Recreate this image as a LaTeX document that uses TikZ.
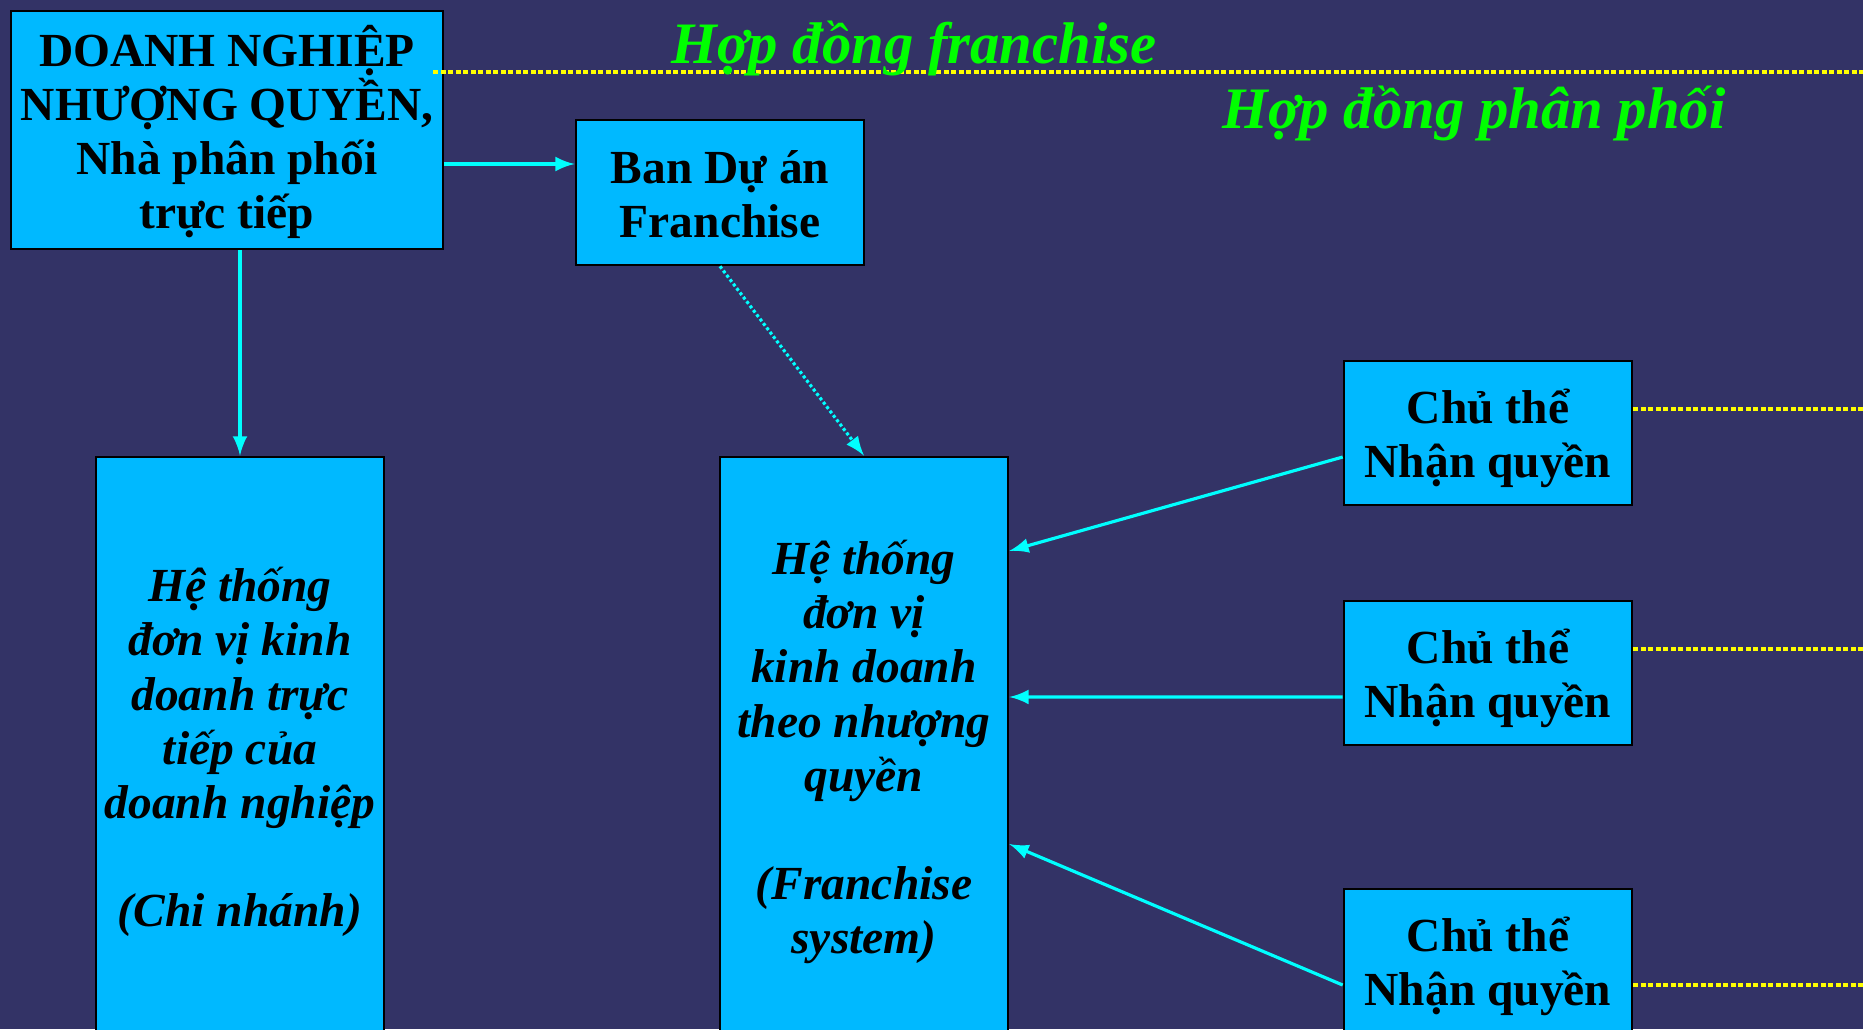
\documentclass[tikz,border=0pt]{standalone}
\usepackage{fontspec}
\setmainfont{Liberation Serif}
\usepackage{tikz}
\usetikzlibrary{calc}
\usetikzlibrary{arrows}
\usetikzlibrary{positioning}

\definecolor{bgblue}{HTML}{333366}
\definecolor{boxblue}{HTML}{00B9FF}
\definecolor{linecyan}{HTML}{00FFFF}
\definecolor{titlegreen}{HTML}{00FF00}
\definecolor{dotyellow}{HTML}{FFFF00}

% fixed first-line height and last-line depth for the box labels
\newcommand{\hstrut}{\rule{0pt}{1.04em}}
\newcommand{\dstrut}{\rule[-0.3em]{0pt}{0.3em}}

\begin{document}
\begin{tikzpicture}[x=0.01cm, y=-0.01cm,
  cell/.style={rectangle, draw=black, line width=0.7pt, fill=boxblue, inner sep=0pt, align=center},
  box/.style={cell, font=\bfseries\fontsize{13.5}{15.4}\selectfont},
  tallbox/.style={cell, minimum width=2.88cm, minimum height=5.9cm,
    font=\bfseries\itshape\fontsize{13.5}{15.4}\selectfont},
  nqbox/.style={box, minimum width=2.88cm, minimum height=1.44cm},
  arr/.style={-latex, draw=linecyan, line width=0.9pt},
  dotarr/.style={arr, dash pattern=on 0.03cm off 0.025cm},
  contract/.style={draw=dotyellow, line width=1.1pt, dash pattern=on 0.05cm off 0.025cm},
  title/.style={anchor=base, text=titlegreen, font=\bfseries\itshape\fontsize{16.7}{20}\selectfont}]

\useasboundingbox (0, 0) rectangle (1863, 1029);
\clip (0, 0) rectangle (1863, 1029);
\fill [bgblue] (0, 0) rectangle (1863, 1029);

% nodes
\node [box, minimum width=4.32cm, minimum height=2.38cm] (DN) at (227, 130)
  {\hstrut DOANH NGHIỆP\\ NHƯỢNG QUYỀN,\\ Nhà phân phối\\ trực tiếp\dstrut};
\node [box, minimum width=2.88cm, minimum height=1.45cm] (BDA) at (720, 192.5)
  {\hstrut Ban Dự án\\ Franchise\dstrut};
\node [tallbox] (CN) at (240, 752)
  {Hệ thống\\ đơn vị kinh\\ doanh trực\\ tiếp của\\ doanh nghiệp\\ \mbox{}\\ (Chi nhánh)};
\node [tallbox] (HT) at (864, 752)
  {Hệ thống\\ đơn vị\\ kinh doanh\\ theo nhượng\\ quyền\\ \mbox{}\\ (Franchise\\ system)};
\node [nqbox] (NQ1) at (1488, 433) {\hstrut Chủ thể\\ Nhận quyền\dstrut};
\node [nqbox] (NQ2) at (1488, 673) {\hstrut Chủ thể\\ Nhận quyền\dstrut};
\node [nqbox] (NQ3) at (1488, 961) {\hstrut Chủ thể\\ Nhận quyền\dstrut};

% contract lines
\coordinate (fend) at (1863, 72);
\coordinate (n1end) at (1863, 409);
\coordinate (n2end) at (1863, 649);
\coordinate (n3end) at (1863, 985);
\draw [contract] ([xshift=-0.11cm]DN.east |- fend) -- (fend);
\draw [contract] (NQ1.east |- n1end) -- (n1end);
\draw [contract] (NQ2.east |- n2end) -- (n2end);
\draw [contract] (NQ3.east |- n3end) -- (n3end);

\node [title] (hdf) at (914, 63) {Hợp đồng franchise};
\node [title] (hdp) at (1474, 128) {Hợp đồng phân phối};

% arrows
\draw [arr] ([yshift=0.285cm]BDA.west -| DN.east) -- ([yshift=0.285cm]BDA.west);
\draw [arr] (CN.north |- DN.south) -- (CN.north);
\draw [dotarr] (BDA.south) -- (HT.north);
\draw [arr] ([yshift=-0.24cm]NQ1.west) -- ([yshift=2.01cm]HT.east);
\draw [arr] ([yshift=-0.24cm]NQ2.west) -- ([yshift=0.55cm]HT.east);
\draw [arr] ([yshift=-0.24cm]NQ3.west) -- ([yshift=-0.92cm]HT.east);
\end{tikzpicture}
\end{document}
